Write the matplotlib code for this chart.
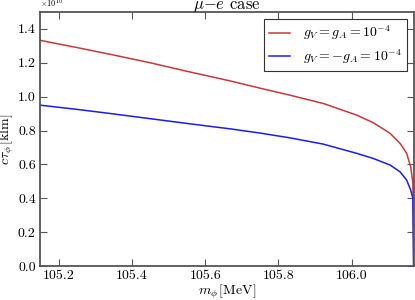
import numpy as np
import matplotlib
matplotlib.use("Agg")
import matplotlib.pyplot as plt
from matplotlib.ticker import FuncFormatter

plt.rcParams['font.family'] = 'cmr10'
plt.rcParams['mathtext.fontset'] = 'cm'
plt.rcParams['axes.unicode_minus'] = False

# values (y in units of 1e10 klm)
m_red = [105.149, 105.25, 105.35, 105.45, 105.55, 105.668, 105.75, 105.831, 105.922,
         106.014, 106.059, 106.105, 106.132, 106.150, 106.161, 106.167, 106.169]
ct_red = [1.333, 1.290, 1.246, 1.200, 1.150, 1.093, 1.050, 1.009, 0.960,
          0.891, 0.846, 0.783, 0.724, 0.665, 0.586, 0.488, 0.0]

m_blue = [105.149, 105.25, 105.35, 105.45, 105.55, 105.668, 105.75, 105.831, 105.922,
          106.014, 106.059, 106.105, 106.132, 106.150, 106.161, 106.167, 106.169]
ct_blue = [0.950, 0.925, 0.898, 0.870, 0.842, 0.810, 0.785, 0.757, 0.720,
           0.665, 0.635, 0.596, 0.556, 0.507, 0.448, 0.400, 0.0]

fig = plt.figure(figsize=(4.15, 3.0), dpi=100)
ax = fig.add_axes([0.0964, 0.1133, 0.9012, 0.8467])

ax.plot(m_red, np.array(ct_red) * 1e10, color='#c8383c', lw=1.1,
        label=r'$g_V = g_A = 10^{-4}$')
ax.plot(m_blue, np.array(ct_blue) * 1e10, color='#1c1cf0', lw=1.1,
        label=r'$g_V = -g_A = 10^{-4}$')

ax.set_xlim(105.149, 106.170)
ax.set_ylim(0, 1.5e10)
ax.set_xticks([105.2, 105.4, 105.6, 105.8, 106.0])
ax.set_yticks(np.arange(0, 1.41e10, 0.2e10))
ax.xaxis.set_major_formatter(FuncFormatter(lambda v, p: '%.1f' % v))
ax.yaxis.set_major_formatter(FuncFormatter(lambda v, p: '%.1f' % (v / 1e10)))
ax.text(0.0, 1.012, r'$\times10^{10}$', transform=ax.transAxes, fontsize=6,
        ha='left', va='bottom')
ax.tick_params(direction='in', top=True, right=True, length=5, width=0.8,
               color='#555555', labelsize=10, pad=3)
for s in ax.spines.values():
    s.set_color('#555555')
    s.set_linewidth(1.3)

ax.set_xlabel(r'$m_\phi\,[\mathrm{MeV}]$', fontsize=10, labelpad=0)
ax.set_ylabel(r'$c\tau_\phi\,[\mathrm{klm}]$', fontsize=10, labelpad=1)
ax.set_title(r'$\mu$$-$$e$ case', fontsize=12, pad=2)

leg = ax.legend(loc='upper right', fontsize=10, fancybox=False, framealpha=1,
                handlelength=1.5, handletextpad=1.0, labelspacing=0.35,
                borderpad=0.35, borderaxespad=0.5)
leg.get_frame().set_edgecolor('#333333')
leg.get_frame().set_linewidth(0.8)

fig.savefig('out.png', dpi=100)
